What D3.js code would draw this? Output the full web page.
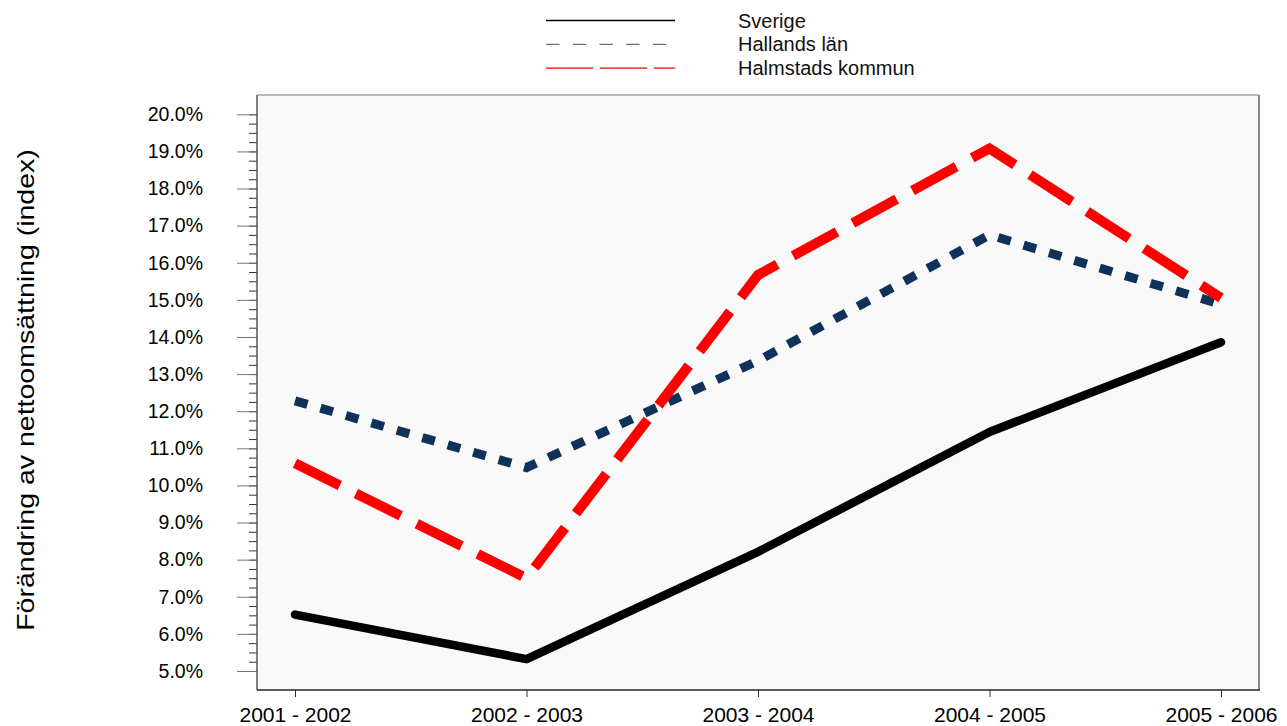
<!DOCTYPE html>
<html>
<head>
<meta charset="utf-8">
<script src="https://cdn.jsdelivr.net/npm/d3@7/dist/d3.min.js"></script>
<style>
	body { margin: 0; background: #fff; }
	svg { display: block; font-family: Arial, "Liberation Sans", Helvetica, sans-serif; }
</style>
</head>
<body>
<svg width="1287" height="726"></svg>
<script>
const periods = ['2001 - 2002', '2002 - 2003', '2003 - 2004', '2004 - 2005', '2005 - 2006'];
const sverige = [6.52, 5.32, 8.21, 11.44, 13.86];
const hallands = [12.28, 10.48, 13.36, 16.75, 14.88];
const halmstad = [10.60, 7.50, 15.67, 19.08, 15.05];
const seriesNames = ['Sverige', 'Hallands län', 'Halmstads kommun'];
const yTicks = [5, 6, 7, 8, 9, 10, 11, 12, 13, 14, 15, 16, 17, 18, 19, 20];
const yTitle = 'Förändring av nettoomsättning (index)';

let series = [
	{name: seriesNames[0], values: sverige, colour: '#000000', width: 8.5, dash: null, cap: 'round',
		legendColour: '#000000', legendDash: null},
	{name: seriesNames[1], values: hallands, colour: '#10325a', width: 9, dash: '13,13.5', cap: 'butt',
		legendColour: '#5d7393', legendDash: '13.5,13.2'},
	{name: seriesNames[2], values: halmstad, colour: '#ff0000', width: 10, dash: '50,18', cap: 'butt',
		legendColour: '#ff0000', legendDash: '47,7'},
];

let svg = d3.select('svg');

// plot box
let box = {left: 257, right: 1259, top: 95, bottom: 690};

let x = d3.scalePoint()
	.domain(periods)
	.range([295, 1221]);

let y = d3.scaleLinear()
	.domain([5, 20])
	.range([671, 114.3]);

svg.append('rect')
	.attr('x', box.left)
	.attr('y', box.top)
	.attr('width', box.right - box.left)
	.attr('height', box.bottom - box.top)
	.attr('fill', '#f9f9f9')
	.attr('stroke', 'none');

// right and top borders are grey, bottom darker
svg.append('line')
	.attr('x1', box.right).attr('x2', box.right)
	.attr('y1', box.top).attr('y2', box.bottom)
	.attr('stroke', '#8a8a8a').attr('stroke-width', 2);
svg.append('line')
	.attr('x1', box.left).attr('x2', box.right)
	.attr('y1', box.top).attr('y2', box.top)
	.attr('stroke', '#777').attr('stroke-width', 1);

// minor y ticks
let minor = d3.range(5, 20.01, 0.25);
svg.append('g')
	.attr('class', 'minor')
	.attr('transform', 'translate(' + box.left + ',0)')
	.call(d3.axisLeft(y).tickValues(minor).tickSize(8).tickFormat(''))
	.call(function(g){ g.select('.domain').remove(); })
	.selectAll('line')
		.attr('stroke', '#333');

let yAxis = svg.append('g')
	.attr('transform', 'translate(' + box.left + ',0)')
	.call(d3.axisLeft(y)
		.tickValues(yTicks)
		.tickSize(20)
		.tickPadding(34)
		.tickFormat(function(d){ return d3.format('.1f')(d) + '%'; }))
	;
yAxis.select('.domain').remove();
yAxis.selectAll('line').attr('stroke', '#777');
yAxis.selectAll('text')
	.attr('font-size', '19.5px')
	.attr('font-family', 'Arial, "Liberation Sans", sans-serif')
	.attr('fill', '#000');

svg.append('line')
	.attr('x1', box.left).attr('x2', box.left)
	.attr('y1', box.top).attr('y2', box.bottom)
	.attr('stroke', '#555').attr('stroke-width', 1.5);

let xAxis = svg.append('g')
	.attr('transform', 'translate(0,' + box.bottom + ')')
	.call(d3.axisBottom(x).tickSize(7).tickPadding(10))
	;
xAxis.select('.domain').remove();
xAxis.selectAll('line').attr('stroke', '#333');
xAxis.selectAll('text')
	.attr('font-size', '21px')
	.attr('font-family', 'Arial, "Liberation Sans", sans-serif')
	.attr('fill', '#000');

svg.append('line')
	.attr('x1', box.left).attr('x2', box.right + 1)
	.attr('y1', box.bottom).attr('y2', box.bottom)
	.attr('stroke', '#222').attr('stroke-width', 1.5);

// y axis title
svg.append('text')
	.attr('transform', 'translate(34,390) rotate(-90) scale(1.24,1)')
	.attr('text-anchor', 'middle')
	.attr('font-size', '23px')
	.attr('fill', '#000')
	.text(yTitle);

// series
let line = d3.line()
	.x(function(d, i){ return x(periods[i]); })
	.y(function(d){ return y(d); });

svg.append('g')
	.attr('class', 'lines')
	.selectAll('path')
	.data(series)
	.enter().append('path')
		.attr('d', function(d){ return line(d.values); })
		.attr('fill', 'none')
		.attr('stroke', function(d){ return d.colour; })
		.attr('stroke-width', function(d){ return d.width; })
		.attr('stroke-linecap', function(d){ return d.cap; })
		.attr('stroke-linejoin', function(d){ return d.cap === 'round' ? 'round' : 'miter'; })
		.attr('stroke-dasharray', function(d){ return d.dash; })
	;

// legend
let legend = svg.append('g')
	.attr('class', 'legend')
	.selectAll('g')
	.data(series)
	.enter().append('g')
		.attr('transform', function(d, i){ return 'translate(0,' + (20.5 + i * 23.8) + ')'; })
	;
legend.append('line')
	.attr('x1', 546).attr('x2', 675)
	.attr('y1', 0).attr('y2', 0)
	.attr('stroke', function(d){ return d.legendColour; })
	.attr('stroke-width', 1.3)
	.attr('stroke-dasharray', function(d){ return d.legendDash; });
legend.append('text')
	.attr('x', 738)
	.attr('y', 7)
	.attr('font-size', '20px')
	.attr('fill', '#111')
	.text(function(d){ return d.name; });
</script>
</body>
</html>
